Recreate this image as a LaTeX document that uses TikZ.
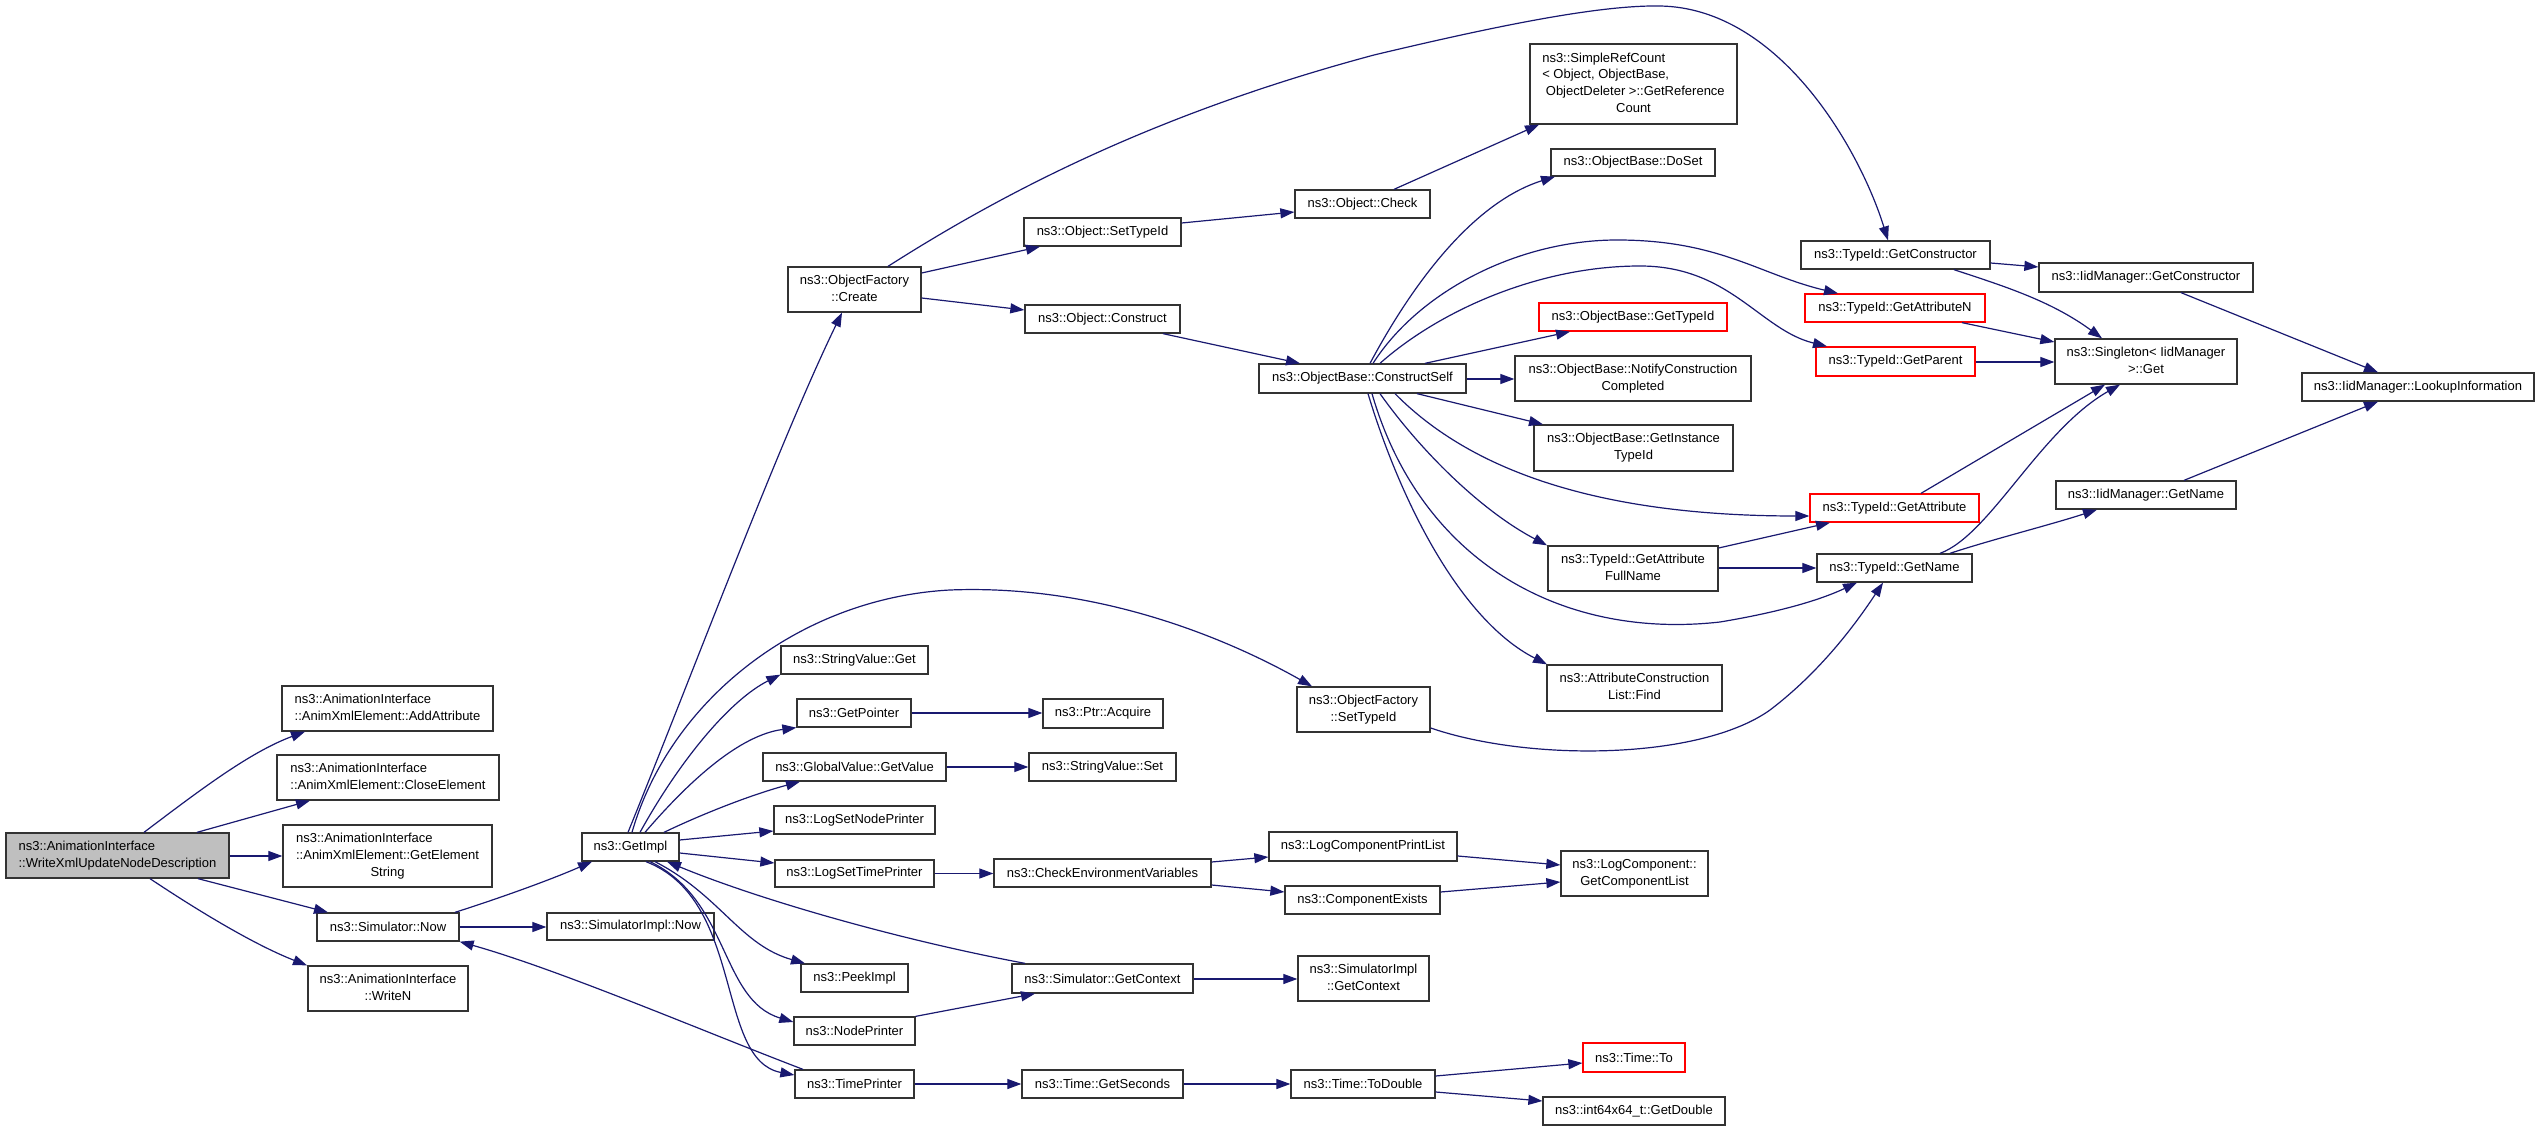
\documentclass[tikz,border=0pt]{standalone}
\usepackage{fontspec}
\setmainfont{Liberation Sans}
\usetikzlibrary{arrows.meta}
\definecolor{edgeblue}{HTML}{191970}
\definecolor{boxborder}{HTML}{333333}
\definecolor{rootgray}{HTML}{BFBFBF}
\newcommand\lbl{\fontsize{13}{16.7}\selectfont}
\newcommand\twol[2]{\begin{tabular}{@{}l@{}}#1\\\multicolumn{1}{@{}c@{}}{#2}\end{tabular}}
\newcommand\bx[7][]{\node[box,#1,minimum width={#5-#3},minimum height={#6-#4}] (#2) at ({(#3+#5)/2},{(#4+#6)/2}) {#7};}
\tikzset{
  box/.style={draw=boxborder, line width=1.3pt, fill=white, inner sep=0pt, font=\lbl, align=center},
  rbox/.style={draw=red},
  root/.style={fill=rootgray},
  edge/.style={draw=edgeblue, line width=1.2pt, -{Triangle[length=14pt,width=10pt]}},
}
\begin{document}
\begin{tikzpicture}[x=1pt,y=-1pt]
\fill[white] (0,0) rectangle (2536,1131);
\useasboundingbox (0,0) rectangle (2536,1131);
% nodes
\bx[root]{wx}{6}{833}{229}{878}{\twol{ns3::AnimationInterface}{::WriteXmlUpdateNodeDescription}}
\bx{addattr}{282}{686}{493}{731}{\twol{ns3::AnimationInterface}{::AnimXmlElement::AddAttribute}}
\bx{closeel}{277}{755}{499}{800}{\twol{ns3::AnimationInterface}{::AnimXmlElement::CloseElement}}
\bx{getelstr}{283}{825}{492}{887}{\begin{tabular}{@{}l@{}}ns3::AnimationInterface\\::AnimXmlElement::GetElement\\\multicolumn{1}{@{}c@{}}{String}\end{tabular}}
\bx{simnow}{317}{913}{459}{941}{ns3::Simulator::Now}
\bx{writen}{308}{966}{468}{1011}{\twol{ns3::AnimationInterface}{::WriteN}}
\bx{getimpl}{582}{833}{679}{861}{ns3::GetImpl}
\bx{simimplnow}{547}{913}{714}{940}{ns3::SimulatorImpl::Now}
\bx{ofcreate}{788}{267}{921}{312}{\twol{ns3::ObjectFactory}{::Create}}
\bx{svget}{781}{646}{928}{674}{ns3::StringValue::Get}
\bx{getptr}{797}{699}{911}{727}{ns3::GetPointer}
\bx{gvget}{763}{753}{946}{781}{ns3::GlobalValue::GetValue}
\bx{lsnp}{774}{806}{935}{834}{ns3::LogSetNodePrinter}
\bx{lstp}{775}{860}{934}{887}{ns3::LogSetTimePrinter}
\bx{peek}{801}{964}{908}{992}{ns3::PeekImpl}
\bx{nodepr}{794}{1017}{915}{1045}{ns3::NodePrinter}
\bx{timepr}{795}{1070}{914}{1098}{ns3::TimePrinter}
\bx{objsettype}{1024}{218}{1181}{246}{ns3::Object::SetTypeId}
\bx{objconstr}{1025}{305}{1180}{333}{ns3::Object::Construct}
\bx{acquire}{1043}{699}{1163}{728}{ns3::Ptr::Acquire}
\bx{svset}{1029}{753}{1176}{781}{ns3::StringValue::Set}
\bx{checkenv}{994}{859}{1211}{887}{ns3::CheckEnvironmentVariables}
\bx{simgetctx}{1012}{964}{1193}{993}{ns3::Simulator::GetContext}
\bx{getsec}{1022}{1070}{1183}{1098}{ns3::Time::GetSeconds}
\bx{objcheck}{1295}{190}{1430}{218}{ns3::Object::Check}
\bx{cself}{1259}{364}{1466}{393}{ns3::ObjectBase::ConstructSelf}
\bx{ofsettype}{1297}{687}{1430}{732}{\twol{ns3::ObjectFactory}{::SetTypeId}}
\bx{lcpl}{1269}{832}{1457}{861}{ns3::LogComponentPrintList}
\bx{compex}{1285}{886}{1440}{914}{ns3::ComponentExists}
\bx{simimplctx}{1298}{956}{1429}{1001}{\twol{ns3::SimulatorImpl}{::GetContext}}
\bx{todouble}{1291}{1070}{1435}{1098}{ns3::Time::ToDouble}
\bx{srcount}{1530}{44}{1737}{124}{\begin{tabular}{@{}l@{}}ns3::SimpleRefCount\\< Object, ObjectBase,\\\ ObjectDeleter >::GetReference\\\multicolumn{1}{@{}c@{}}{Count}\end{tabular}}
\bx{doset}{1551}{149}{1715}{176}{ns3::ObjectBase::DoSet}
\bx[rbox]{obgettid}{1539}{303}{1727}{331}{ns3::ObjectBase::GetTypeId}
\bx{notify}{1515}{356}{1751}{401}{\twol{ns3::ObjectBase::NotifyConstruction}{Completed}}
\bx{getinst}{1534}{425}{1733}{471}{\twol{ns3::ObjectBase::GetInstance}{TypeId}}
\bx{gafull}{1548}{546}{1718}{591}{\twol{ns3::TypeId::GetAttribute}{FullName}}
\bx{acfind}{1547}{665}{1722}{711}{\twol{ns3::AttributeConstruction}{List::Find}}
\bx{gcl}{1561}{851}{1708}{896}{\twol{ns3::LogComponent::}{GetComponentList}}
\bx[rbox]{timeto}{1583}{1043}{1685}{1072}{ns3::Time::To}
\bx{getdouble}{1543}{1097}{1725}{1125}{ns3::int64x64\_t::GetDouble}
\bx{getctor}{1801}{241}{1990}{269}{ns3::TypeId::GetConstructor}
\bx[rbox]{getattrn}{1805}{294}{1985}{322}{ns3::TypeId::GetAttributeN}
\bx[rbox]{getparent}{1816}{347}{1975}{376}{ns3::TypeId::GetParent}
\bx[rbox]{getattr}{1810}{494}{1979}{522}{ns3::TypeId::GetAttribute}
\bx{tgetname}{1817}{554}{1972}{582}{ns3::TypeId::GetName}
\bx{iidgetctor}{2039}{263}{2253}{292}{ns3::IidManager::GetConstructor}
\bx{singleton}{2055}{339}{2237}{384}{\twol{ns3::Singleton< IidManager}{>::Get}}
\bx{iidgetname}{2056}{481}{2236}{509}{ns3::IidManager::GetName}
\bx{lookup}{2302}{373}{2534}{401}{ns3::IidManager::LookupInformation}
% edges
\draw[edge] (144,0 |- wx.north) .. controls (200,790) and (250,752) .. (305,0 |- addattr.south);
\draw[edge] (197,0 |- wx.north) -- (310,0 |- closeel.south);
\draw[edge] (wx.east |- 0,856) -- (getelstr.west |- 0,856);
\draw[edge] (198,0 |- wx.south) -- (328,0 |- simnow.north);
\draw[edge] (150,0 |- wx.south) .. controls (200,912) and (255,945) .. (307,0 |- writen.north);
\draw[edge] (455,0 |- simnow.north) .. controls (500,898) and (550,880) .. (592,0 |- getimpl.south);
\draw[edge] (simnow.east |- 0,927) -- (simimplnow.west |- 0,927);
\draw[edge] (628,0 |- getimpl.north) .. controls (690,680) and (780,440) .. (842,0 |- ofcreate.south);
\draw[edge] (632,0 |- getimpl.north) .. controls (670,700) and (800,598) .. (950,590) .. controls (1100,584) and (1230,640) .. (1312,0 |- ofsettype.north);
\draw[edge] (640,0 |- getimpl.north) .. controls (680,760) and (730,700) .. (svget.south west);
\draw[edge] (645,0 |- getimpl.north) .. controls (690,780) and (740,735) .. (getptr.south west);
\draw[edge] (664,0 |- getimpl.north) .. controls (700,815) and (750,795) .. (800,0 |- gvget.south);
\draw[edge] (getimpl.east |- 0,840) -- (lsnp.west |- 0,831);
\draw[edge] (getimpl.east |- 0,853) -- (lstp.west |- 0,863);
\draw[edge] (655,0 |- getimpl.south) .. controls (720,895) and (740,945) .. (805,0 |- peek.north);
\draw[edge] (650,0 |- getimpl.south) .. controls (730,900) and (720,1000) .. (nodepr.west |- 0,1022);
\draw[edge] (646,0 |- getimpl.south) .. controls (745,900) and (715,1060) .. (timepr.west |- 0,1075);
\draw[edge] (1025,0 |- simgetctx.north) .. controls (900,940) and (760,900) .. (667,0 |- getimpl.south);
\draw[edge] (803,0 |- timepr.north) .. controls (700,1030) and (560,970) .. (simnow.south east);
\draw[edge] (nodepr.north east) -- (1035,0 |- simgetctx.south);
\draw[edge] (timepr.east |- 0,1084) -- (getsec.west |- 0,1084);
\draw[edge] (getptr.east) -- (acquire.west |- getptr.east);
\draw[edge] (gvget.east) -- (svset.west |- gvget.east);
\draw[edge] (lstp.east) -- (checkenv.west |- lstp.east);
\draw[edge] (checkenv.east |- 0,862) -- (lcpl.west |- 0,857);
\draw[edge] (checkenv.east |- 0,885) -- (compex.west |- 0,892);
\draw[edge] (lcpl.east |- 0,856) -- (gcl.west |- 0,865);
\draw[edge] (compex.east |- 0,892) -- (gcl.west |- 0,882);
\draw[edge] (simgetctx.east |- 0,979) -- (simimplctx.west |- 0,979);
\draw[edge] (getsec.east) -- (todouble.west |- getsec.east);
\draw[edge] (todouble.east |- 0,1076) -- (timeto.west |- 0,1063);
\draw[edge] (todouble.east |- 0,1092) -- (getdouble.west |- 0,1101);
\draw[edge] (ofcreate.east |- 0,273) -- (1040,0 |- objsettype.south);
\draw[edge] (ofcreate.east |- 0,298) -- (objconstr.west |- 0,310);
\draw[edge] (888,0 |- ofcreate.north) .. controls (1000,195) and (1150,115) .. (1374,55) .. controls (1500,25) and (1600,5) .. (1660,6) .. controls (1780,8) and (1860,150) .. (1888,0 |- getctor.north);
\draw[edge] (objsettype.east |- 0,223) -- (objcheck.west |- 0,212);
\draw[edge] (1394,0 |- objcheck.north) -- (1539,0 |- srcount.south);
\draw[edge] (1163,0 |- objconstr.south) -- (1300,0 |- cself.north);
\draw[edge] (1370,0 |- cself.north) .. controls (1420,270) and (1480,200) .. (1555,0 |- doset.south);
\draw[edge] (1373,0 |- cself.north) .. controls (1420,290) and (1520,240) .. (1617,240) .. controls (1720,240) and (1760,275) .. (1838,0 |- getattrn.north);
\draw[edge] (1380,0 |- cself.north) .. controls (1440,310) and (1540,266) .. (1640,266) .. controls (1730,266) and (1760,330) .. (1827,0 |- getparent.north);
\draw[edge] (1425,0 |- cself.north) -- (1570,0 |- obgettid.south);
\draw[edge] (cself.east |- 0,379) -- (notify.west |- 0,379);
\draw[edge] (1417,0 |- cself.south) -- (1543,0 |- getinst.north);
\draw[edge] (1395,0 |- cself.south) .. controls (1480,480) and (1620,516) .. (getattr.west |- 0,516);
\draw[edge] (1380,0 |- cself.south) .. controls (1420,450) and (1480,510) .. (1547,0 |- gafull.north);
\draw[edge] (1372,0 |- cself.south) .. controls (1420,560) and (1560,640) .. (1720,622) .. controls (1780,612) and (1820,600) .. (1857,0 |- tgetname.south);
\draw[edge] (1368,0 |- cself.south) .. controls (1400,500) and (1460,620) .. (1547,0 |- acfind.north);
\draw[edge] (gafull.east |- 0,548) -- (1830,0 |- getattr.south);
\draw[edge] (gafull.east |- 0,568) -- (tgetname.west |- 0,568);
\draw[edge] (ofsettype.east |- 0,728) .. controls (1530,762) and (1700,760) .. (1770,710) .. controls (1820,672) and (1855,625) .. (1883,0 |- tgetname.south);
\draw[edge] (getctor.east |- 0,263) -- (iidgetctor.west |- 0,267);
\draw[edge] (1954,0 |- getctor.south) .. controls (2000,285) and (2050,300) .. (2102,0 |- singleton.north);
\draw[edge] (1962,0 |- getattrn.south) -- (singleton.west |- 0,342);
\draw[edge] (getparent.east |- 0,362) -- (singleton.west |- 0,362);
\draw[edge] (1921,0 |- getattr.north) -- (2105,0 |- singleton.south);
\draw[edge] (1940,0 |- tgetname.north) .. controls (1990,535) and (2040,430) .. (2120,0 |- singleton.south);
\draw[edge] (1950,0 |- tgetname.north) .. controls (1990,540) and (2050,525) .. (2097,0 |- iidgetname.south);
\draw[edge] (2181,0 |- iidgetctor.south) -- (2378,0 |- lookup.north);
\draw[edge] (2184,0 |- iidgetname.north) -- (2378,0 |- lookup.south);
\end{tikzpicture}
\end{document}
